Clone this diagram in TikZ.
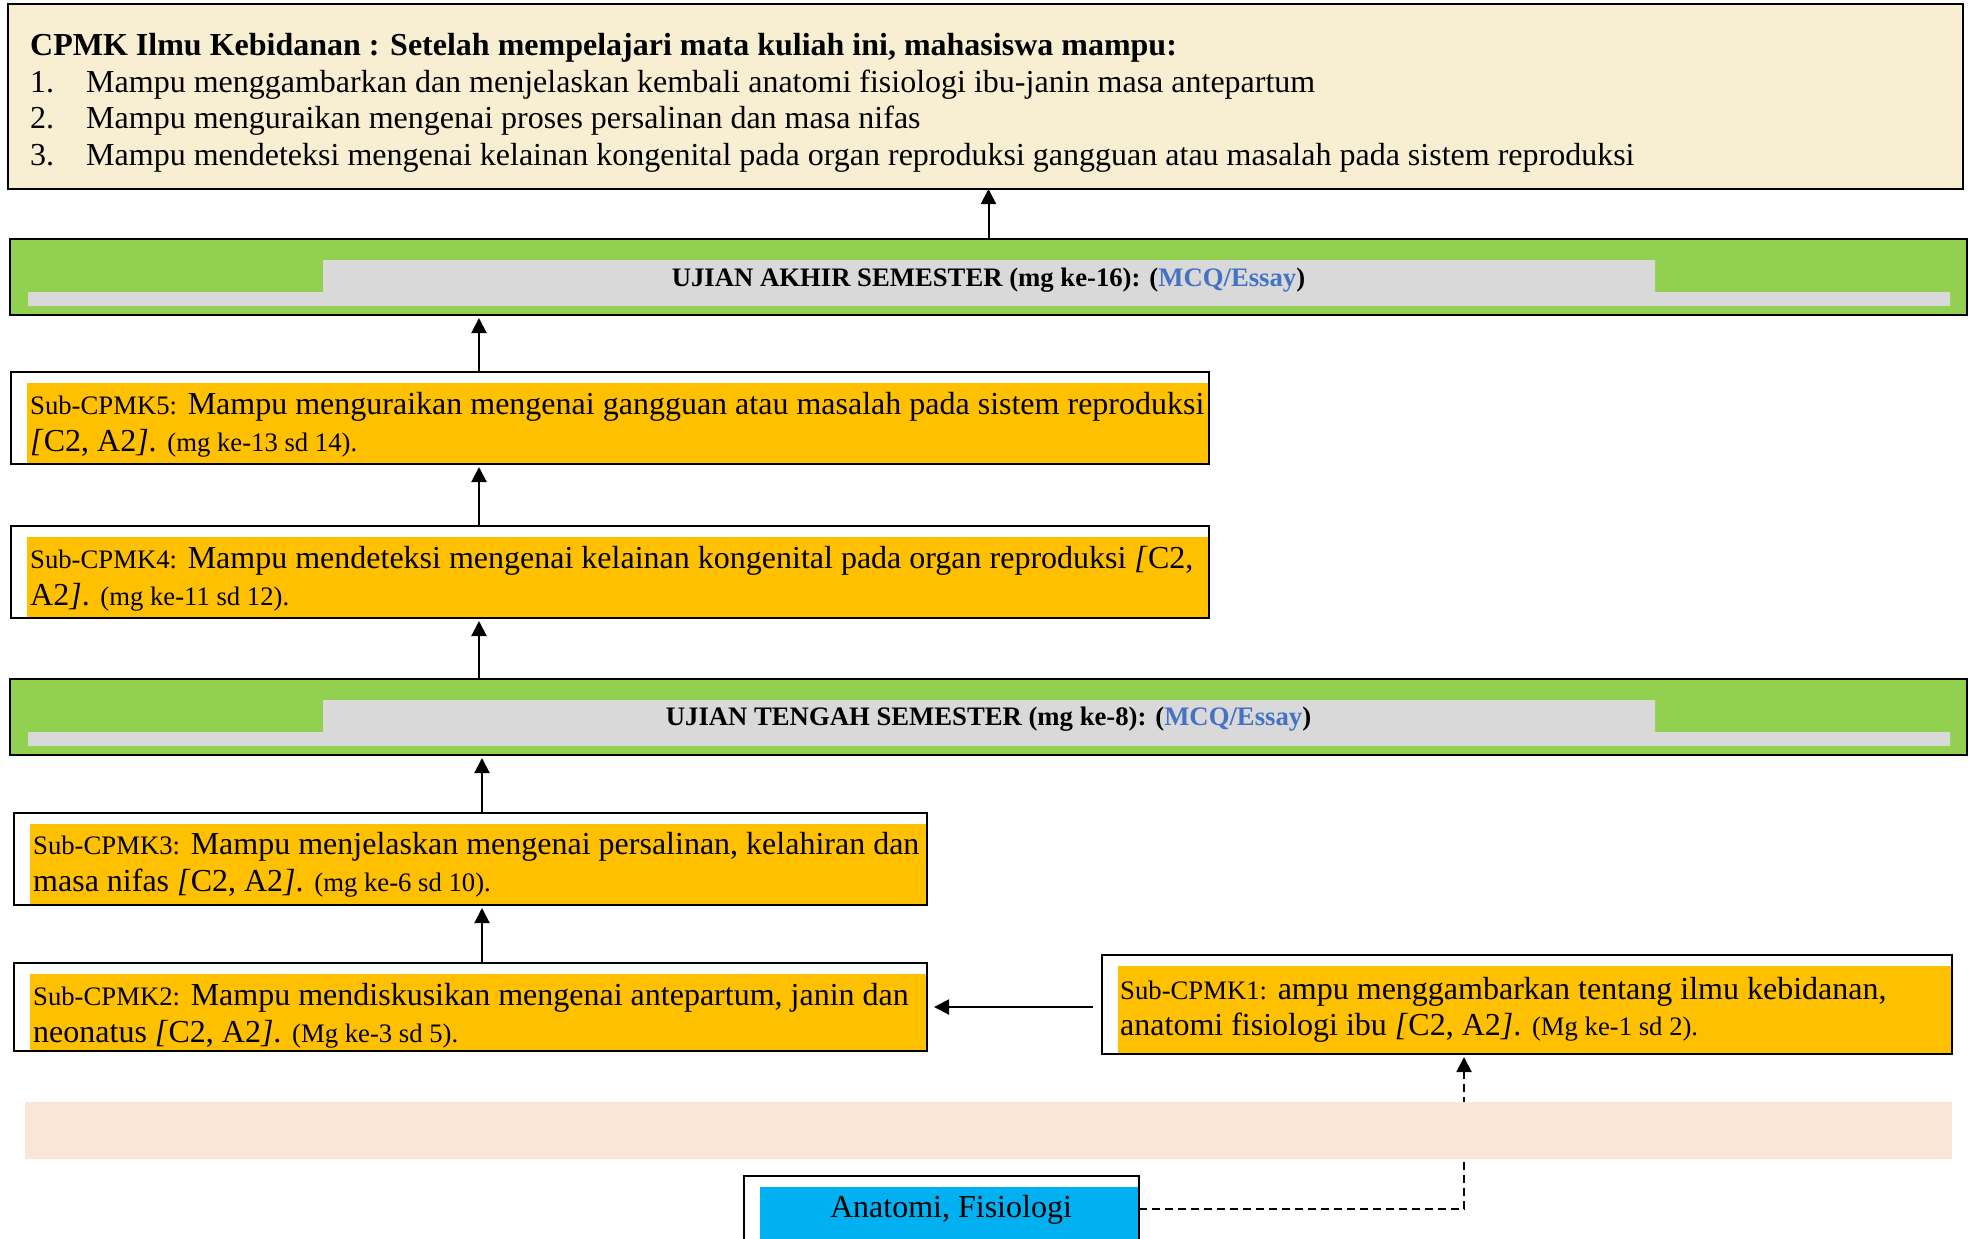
\documentclass[tikz,border=0pt]{standalone}
\usepackage{fontspec}
\setmainfont{Liberation Serif}
\usepackage{xcolor}
\usepackage{tikz}
\usetikzlibrary{arrows.meta}

\definecolor{parchment}{HTML}{F8EFD3}
\definecolor{uasgreen}{HTML}{92D050}
\definecolor{bargrey}{HTML}{D9D9D9}
\definecolor{subgold}{HTML}{FFC000}
\definecolor{bandpeach}{HTML}{FBE5D6}
\definecolor{mkblue}{HTML}{00B0F0}
\definecolor{essayblue}{HTML}{4472C4}

\newcommand{\bigsz}{\fontsize{32}{36.5}\selectfont}
\newcommand{\smallsz}{\fontsize{26.7}{30}\selectfont}
\newcommand{\ranah}{\textit{[}C2, A2\textit{]}.}

\tikzset{
  subbox/.style={draw, line width=2pt, inner sep=0pt, outer sep=0pt, anchor=north west,
    path picture={\fill[#1] ([shift={(16pt,-11pt)}]path picture bounding box.north west)
      rectangle (path picture bounding box.south east);}},
  ujian/.style={draw, line width=2.5pt, fill=uasgreen, inner sep=0pt, outer sep=0pt,
    anchor=north west, minimum width=1957pt, minimum height=76pt},
  subtext/.style={anchor=west, align=left, inner sep=0pt, font=\bigsz},
  arr/.style={-{Triangle[length=15pt,width=15pt]}, line width=2pt},
}

\begin{document}
\begin{tikzpicture}[x=1pt, y=-1pt]
        \useasboundingbox (0,0) rectangle (1973,1239);
        \clip (0,0) rectangle (1973,1239);

        % CPMK
        \node[draw, line width=2pt, fill=parchment, inner sep=0pt, outer sep=0pt, anchor=north west,
              minimum width=1955pt, minimum height=185pt] (cpmk) at (8,4) {};
        \node[subtext] (cpmktxt) at (30,103) {\textbf{CPMK Ilmu Kebidanan : Setelah mempelajari mata kuliah ini, mahasiswa mampu:}\\
            \makebox[56pt][l]{1.}Mampu menggambarkan dan menjelaskan kembali anatomi fisiologi ibu-janin masa antepartum\\
            \makebox[56pt][l]{2.}Mampu menguraikan mengenai proses persalinan dan masa nifas\\
            \makebox[56pt][l]{3.}Mampu mendeteksi mengenai kelainan kongenital pada organ reproduksi gangguan atau masalah pada sistem reproduksi};

        % Ujian bands
        \node[ujian] (uas) at (10,239) {};
        \node[ujian] (uts) at (10,679) {};
        \foreach \band in {uas,uts}
            \fill[bargrey] ([shift={(18pt,-53pt)}]\band.north west) -- ++(295,0) -- ++(0,-32) -- ++(1332,0)
                -- ++(0,32) -- ++(295,0) -- ++(0,14) -- ++(-1922,0) -- cycle;
        \node[font=\smallsz\bfseries] (uastxt) at ([yshift=-3pt]uas.center) {UJIAN AKHIR SEMESTER (mg ke-16): (\textcolor{essayblue}{MCQ/Essay})};
        \node[font=\smallsz\bfseries] (utstxt) at ([yshift=-2pt]uts.center) {UJIAN TENGAH SEMESTER (mg ke-8): (\textcolor{essayblue}{MCQ/Essay})};

        % Sub-CPMK boxes
        \node[subbox=subgold, minimum width=1198pt, minimum height=92pt] (sub5) at (11,372) {};
        \node[subbox=subgold, minimum width=1198pt, minimum height=92pt] (sub4) at (11,526) {};
        \node[subbox=subgold, minimum width=913pt, minimum height=92pt] (sub3) at (14,813) {};
        \node[subbox=subgold, minimum width=913pt, minimum height=88pt] (sub2) at (14,963) {};
        \node[subbox=subgold, minimum width=850pt, minimum height=99pt] (sub1) at (1102,955) {};

        \node[subtext] (sub5txt) at (30,425) {{\smallsz Sub-CPMK5:} Mampu menguraikan mengenai gangguan atau masalah pada sistem reproduksi\\
            \ranah{} {\smallsz (mg ke-13 sd 14).}};
        \node[subtext] (sub4txt) at (30,579) {{\smallsz Sub-CPMK4:} Mampu mendeteksi mengenai kelainan kongenital pada organ reproduksi \textit{[}C2,\\
            A2\textit{]}. {\smallsz (mg ke-11 sd 12).}};
        \node[subtext] (sub3txt) at (33,865) {{\smallsz Sub-CPMK3:} Mampu menjelaskan mengenai persalinan, kelahiran dan\\
            masa nifas \ranah{} {\smallsz (mg ke-6 sd 10).}};
        \node[subtext] (sub2txt) at (33,1016) {{\smallsz Sub-CPMK2:} Mampu mendiskusikan mengenai antepartum, janin dan\\
            neonatus \ranah{} {\smallsz (Mg ke-3 sd 5).}};
        \node[subtext] (sub1txt) at (1120,1010) {{\smallsz Sub-CPMK1:} ampu menggambarkan tentang ilmu kebidanan,\\
            anatomi fisiologi ibu \ranah{} {\smallsz (Mg ke-1 sd 2).}};

        % Mata kuliah
        \node[subbox=mkblue, minimum width=395pt, minimum height=66pt] (anat) at (744,1176) {};
        \node[font=\bigsz, inner sep=0pt] (anattxt) at (951,1210) {Anatomi, Fisiologi};

        % Connections
        \coordinate (colA) at (479,0);
        \coordinate (colB) at (482,0);
        \draw[arr] (uas.north) -- (uas.north |- cpmk.south);
        \draw[arr, shorten >=3pt] (sub5.north -| colA) -- (uas.south -| colA);
        \draw[arr, shorten >=3pt] (sub4.north -| colA) -- (sub5.south -| colA);
        \draw[arr, shorten >=3pt] (uts.north -| colA) -- (sub4.south -| colA);
        \draw[arr, shorten >=3pt] (sub3.north -| colB) -- (uts.south -| colB);
        \draw[arr, shorten >=3pt] (sub2.north -| colB) -- (sub3.south -| colB);
        \draw[arr, shorten <=9pt, shorten >=7pt] (sub2.east -| sub1.west) -- (sub2.east);
        \draw[arr, dash pattern=on 8pt off 5pt, shorten >=3pt] (anat.east) -| ([xshift=-63pt]sub1.south);

        % band over the dashed line
        \fill[bandpeach] (25,1102) rectangle (1952,1159);
    \end{tikzpicture}
\end{document}
